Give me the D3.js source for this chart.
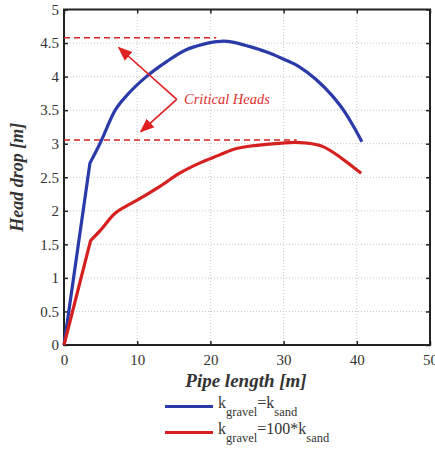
<!DOCTYPE html>
<html><head><meta charset="utf-8">
<script src="https://cdn.jsdelivr.net/npm/d3@7"></script>
<style>body{margin:0;background:#fff}svg{display:block}text{font-family:"Liberation Serif","Times New Roman",serif}</style>
</head><body>
<script>
const xTicks=[0,10,20,30,40,50];
const yTicks=[0,0.5,1,1.5,2,2.5,3,3.5,4,4.5,5];
const blueX=[0,3.54,4.9,6.94,8.75,11.25,13.97,16.7,18.96,20.8,21.8,23.2,25.3,27.6,29.8,32.1,34.4,36.6,38.5,39.6,40.7];
const blueY=[0,2.71,3.0,3.49,3.74,4.0,4.22,4.40,4.48,4.52,4.53,4.51,4.45,4.37,4.27,4.15,3.96,3.72,3.45,3.25,3.03];
const redX=[0,3.63,4.9,6.94,8.5,10.0,13.06,15.8,18.5,21.2,23.0,26.7,29.8,31.5,33.0,35.3,37.6,39.4,40.6];
const redY=[0,1.555,1.70,1.96,2.07,2.16,2.36,2.56,2.71,2.83,2.91,2.98,3.01,3.02,3.01,2.96,2.81,2.66,2.56];
const criticalHeads=[4.58,3.055];
const criticalEnds=[20.8,31.8];

const W=435,H=450;
const m={l:64,r:5,t:9.5,b:105};
const svg=d3.select("body").append("svg").attr("width",W).attr("height",H);
const x=d3.scaleLinear().domain([0,50]).range([m.l,W-m.r]);
const y=d3.scaleLinear().domain([0,5]).range([H-m.b,m.t]);

// grid
const g=svg.append("g");
g.selectAll(".gx").data(xTicks.slice(1,-1)).join("line")
 .attr("x1",d=>x(d)).attr("x2",d=>x(d)).attr("y1",y(0)).attr("y2",y(5))
 .attr("stroke","#c8c8c8").attr("stroke-dasharray","1,2");
g.selectAll(".gy").data(yTicks.slice(1,-1)).join("line")
 .attr("y1",d=>y(d)).attr("y2",d=>y(d)).attr("x1",x(0)).attr("x2",x(50))
 .attr("stroke","#c8c8c8").attr("stroke-dasharray","1,2");

// axes
svg.append("g").attr("transform",`translate(0,${y(0)})`)
 .call(d3.axisBottom(x).tickValues(xTicks).tickSize(-4).tickPadding(9).tickFormat(d3.format("d")));
svg.append("g").attr("transform",`translate(${x(0)},0)`)
 .call(d3.axisLeft(y).tickValues(yTicks).tickSize(-4).tickPadding(5).tickFormat(d=>d));
svg.append("g").attr("transform",`translate(0,${y(5)})`)
 .call(d3.axisTop(x).tickValues(xTicks).tickSize(-4).tickFormat(""));
svg.append("g").attr("transform",`translate(${x(50)},0)`)
 .call(d3.axisRight(y).tickValues(yTicks).tickSize(-4).tickFormat(""));
svg.selectAll(".domain").remove();
svg.selectAll(".tick line").attr("stroke","#222").attr("stroke-width",1.5);
svg.selectAll(".tick text").attr("font-size",15).attr("fill","#333").attr("font-family","Liberation Serif");
svg.append("rect").attr("x",x(0)).attr("y",y(5)).attr("width",x(50)-x(0)).attr("height",y(0)-y(5))
 .attr("fill","none").attr("stroke","#222").attr("stroke-width",2);

// critical head dashed lines
svg.selectAll(".crit").data(criticalHeads).join("line")
 .attr("x1",x(0)).attr("x2",(d,i)=>x(criticalEnds[i])).attr("y1",d=>y(d)).attr("y2",d=>y(d))
 .attr("stroke","#d42020").attr("stroke-width",1.5).attr("stroke-dasharray","6,4");

// curves: straight initial segment, then smooth
function drawSeries(xs,ys,color){
 const pts=xs.map((v,i)=>[v,ys[i]]);
 const lin=d3.line().x(d=>x(d[0])).y(d=>y(d[1]));
 const smooth=d3.line().x(d=>x(d[0])).y(d=>y(d[1])).curve(d3.curveMonotoneX);
 const p=lin(pts.slice(0,2))+smooth(pts.slice(1)).replace(/^M[^LC]*/,"");
 svg.append("path").attr("d",p).attr("fill","none").attr("stroke",color)
  .attr("stroke-width",3.2).attr("stroke-linejoin","round");
}
drawSeries(blueX,blueY,"#2a3aa8");
drawSeries(redX,redY,"#d62020");

// arrows
const defs=svg.append("defs");
defs.append("marker").attr("id","ah").attr("viewBox","0 0 10 10").attr("refX",9).attr("refY",5)
 .attr("markerWidth",9).attr("markerHeight",9).attr("orient","auto-start-reverse")
 .append("path").attr("d","M0,1 L10,5 L0,9 Z").attr("fill","#e02020");
const origin=[x(15.4),y(3.66)];
[[x(7.5),y(4.43)],[x(10.5),y(3.18)]].forEach(t=>{
 svg.append("line").attr("x1",origin[0]).attr("y1",origin[1]).attr("x2",t[0]).attr("y2",t[1])
  .attr("stroke","#e02020").attr("stroke-width",1.6).attr("marker-end","url(#ah)");
});
svg.append("text").attr("x",x(16.4)).attr("y",y(3.66)+5).text("Critical Heads")
 .attr("fill","#e03030").attr("font-style","italic").attr("font-size",14.5);

// axis labels
svg.append("text").attr("transform",`translate(23,${(y(0)+y(5))/2}) rotate(-90)`).attr("text-anchor","middle")
 .attr("font-weight","bold").attr("font-style","italic").attr("font-size",18).attr("fill","#333").text("Head drop [m]");
svg.append("text").attr("x",246).attr("y",387).attr("text-anchor","middle")
 .attr("font-weight","bold").attr("font-style","italic").attr("font-size",19).attr("fill","#333").text("Pipe length [m]");

// legend
const leg=[{c:"#2a3aa8",y:406.5,parts:[["k",0],["gravel",1],["=k",0],["sand",1]]},
           {c:"#d62020",y:432.5,parts:[["k",0],["gravel",1],["=100*k",0],["sand",1]]}];
leg.forEach(L=>{
 svg.append("line").attr("x1",165).attr("x2",213).attr("y1",L.y).attr("y2",L.y).attr("stroke",L.c).attr("stroke-width",3);
 const t=svg.append("text").attr("x",218).attr("y",L.y+1.5).attr("font-size",16).attr("fill","#333");
 L.parts.forEach((p,i)=>{
  t.append("tspan").attr("dy",p[1]?8:(i?-8:0)).attr("font-size",p[1]?12.5:16).text(p[0]);
 });
});
</script>
</body></html>
